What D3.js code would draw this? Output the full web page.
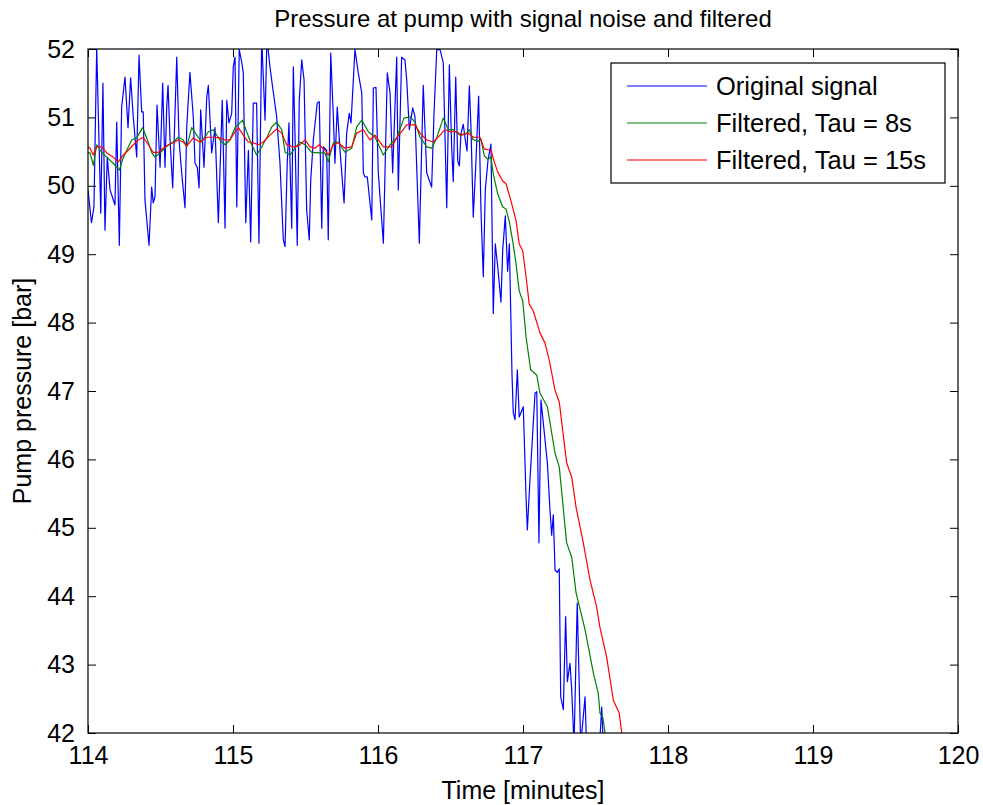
<!DOCTYPE html>
<html><head><meta charset="utf-8">
<script src="https://cdn.jsdelivr.net/npm/d3@7"></script>
<style>body{margin:0;background:#fff}svg{display:block}text{font-family:Arial,"Liberation Sans",sans-serif;fill:#000}</style>
</head><body>
<script>
const title = "Pressure at pump with signal noise and filtered";
const xLabel = "Time [minutes]";
const yLabel = "Pump pressure [bar]";
const xTicks = [114,115,116,117,118,119,120];
const yTicks = [42,43,44,45,46,47,48,49,50,51,52];
const seriesNames = ["Original signal","Filtered, Tau = 8s","Filtered, Tau = 15s"];
const seriesColors = ["#0000ff","#008000","#ff0000"];

const origT = [114.000,114.024,114.041,114.060,114.088,114.103,114.117,114.133,114.152,114.186,114.198,114.216,114.232,114.255,114.276,114.294,114.312,114.336,114.352,114.370,114.381,114.393,114.421,114.439,114.450,114.462,114.476,114.497,114.515,114.531,114.543,114.552,114.566,114.584,114.612,114.628,114.646,114.669,114.681,114.703,114.726,114.738,114.754,114.766,114.777,114.800,114.819,114.830,114.853,114.876,114.899,114.926,114.945,114.957,114.972,114.991,115.002,115.014,115.026,115.043,115.060,115.071,115.088,115.106,115.122,115.140,115.163,115.179,115.198,115.221,115.234,115.255,115.274,115.301,115.324,115.347,115.359,115.374,115.386,115.405,115.416,115.428,115.443,115.457,115.474,115.490,115.508,115.526,115.536,115.554,115.581,115.595,115.612,115.623,115.646,115.657,115.674,115.692,115.703,115.719,115.738,115.766,115.784,115.802,115.814,115.841,115.864,115.888,115.899,115.910,115.926,115.957,115.968,115.986,116.002,116.037,116.064,116.083,116.101,116.129,116.140,116.163,116.186,116.198,116.216,116.239,116.255,116.285,116.312,116.336,116.370,116.386,116.405,116.428,116.450,116.474,116.492,116.508,116.519,116.536,116.550,116.561,116.572,116.588,116.602,116.614,116.630,116.641,116.657,116.676,116.694,116.710,116.726,116.740,116.759,116.779,116.795,116.809,116.826,116.848,116.860,116.878,116.894,116.906,116.924,116.933,116.945,116.961,116.974,117.002,117.021,117.030,117.048,117.083,117.095,117.110,117.124,117.145,117.168,117.186,117.198,117.209,117.221,117.237,117.250,117.260,117.278,117.294,117.306,117.324,117.336,117.352,117.374,117.398,117.428,117.438,117.483,117.528,117.543,117.554,117.600];
const origV = [49.94,49.46,49.69,52.01,49.60,51.50,49.35,50.42,49.94,49.72,50.93,49.13,51.15,51.59,50.85,51.58,51.01,50.42,51.91,51.08,51.08,49.79,49.13,49.98,49.75,49.84,51.18,50.27,51.50,50.27,51.15,51.47,50.67,49.97,51.88,50.67,50.19,49.68,50.86,51.66,51.01,50.33,50.27,49.97,51.11,50.27,51.30,51.47,50.48,50.85,49.46,51.25,49.38,51.25,50.92,51.06,51.74,51.88,49.69,51.99,51.81,51.65,49.46,50.52,49.18,51.21,51.21,49.16,52.16,50.96,52.16,51.74,51.43,51.01,50.33,49.21,49.11,50.33,50.92,49.38,51.74,50.71,49.13,51.25,51.84,51.55,49.65,49.21,50.08,50.67,51.21,51.23,49.38,50.57,50.52,49.21,51.94,51.01,50.33,51.15,50.52,49.75,50.77,51.06,50.92,51.99,51.65,51.36,50.19,50.13,50.13,49.50,51.43,51.44,50.19,49.16,51.65,51.36,50.19,51.88,49.94,51.88,51.84,51.55,50.82,51.14,51.01,49.16,51.47,50.19,49.98,51.04,51.99,51.99,51.80,49.68,51.77,50.57,50.06,51.59,50.36,50.29,50.76,50.90,50.67,50.51,51.46,50.86,49.54,50.38,51.31,49.65,48.67,49.94,50.38,50.61,48.13,49.15,48.81,48.30,49.06,49.56,48.75,49.15,47.25,46.68,46.58,47.31,46.62,46.77,45.45,44.97,45.70,46.97,46.99,44.78,46.87,46.43,45.95,45.26,44.89,45.19,44.38,44.35,44.40,42.53,42.34,43.70,42.75,43.02,42.63,41.82,43.90,41.82,42.53,41.82,41.31,41.82,42.38,41.82,41.20];

const tau8T = [114.000,114.014,114.037,114.060,114.094,114.129,114.174,114.216,114.243,114.301,114.336,114.377,114.405,114.439,114.462,114.497,114.538,114.588,114.623,114.657,114.681,114.715,114.750,114.784,114.830,114.864,114.910,114.945,114.979,115.014,115.067,115.094,115.129,115.163,115.198,115.232,115.267,115.301,115.336,115.359,115.393,115.428,115.462,115.497,115.543,115.595,115.634,115.657,115.692,115.726,115.772,115.819,115.853,115.888,115.933,115.979,116.037,116.083,116.129,116.179,116.221,116.255,116.290,116.336,116.370,116.405,116.450,116.485,116.519,116.566,116.612,116.630,116.653,116.688,116.710,116.733,116.757,116.779,116.795,116.826,116.860,116.883,116.906,116.929,116.952,116.974,116.998,117.021,117.053,117.095,117.117,117.168,117.221,117.250,117.301,117.336,117.366,117.428,117.485,117.519,117.531,117.550,117.566,117.579];
const tau8V = [50.48,50.48,50.30,50.60,50.49,50.42,50.33,50.23,50.41,50.67,50.70,50.85,50.70,50.49,50.42,50.48,50.57,50.64,50.71,50.67,50.57,50.85,50.74,50.64,50.79,50.82,50.67,50.60,50.67,50.85,50.96,50.79,50.60,50.45,50.57,50.70,50.86,50.93,50.82,50.49,50.45,50.55,50.64,50.60,50.49,50.48,50.48,50.35,50.63,50.64,50.49,50.55,50.86,50.96,50.79,50.71,50.45,50.60,50.70,50.99,51.01,50.93,50.71,50.57,50.55,50.70,50.99,50.82,50.82,50.74,50.77,50.82,50.68,50.65,50.68,50.44,50.39,50.42,50.17,49.88,49.69,49.66,49.47,49.19,48.86,48.46,48.32,47.79,47.31,47.23,46.97,46.77,46.09,45.89,44.78,44.57,44.05,43.51,42.88,42.58,42.29,42.23,42.00,41.75];

const tau15T = [114.000,114.014,114.037,114.060,114.094,114.129,114.174,114.209,114.243,114.278,114.312,114.347,114.381,114.416,114.450,114.485,114.519,114.554,114.588,114.623,114.657,114.681,114.726,114.772,114.819,114.864,114.910,114.945,114.979,115.014,115.037,115.071,115.106,115.140,115.174,115.209,115.255,115.301,115.336,115.370,115.416,115.450,115.497,115.531,115.566,115.595,115.634,115.657,115.692,115.726,115.772,115.819,115.853,115.899,115.945,115.979,116.037,116.094,116.129,116.198,116.255,116.290,116.336,116.381,116.428,116.462,116.497,116.543,116.577,116.623,116.657,116.703,116.733,116.779,116.802,116.826,116.860,116.883,116.917,116.952,116.974,116.998,117.021,117.043,117.071,117.117,117.152,117.181,117.221,117.250,117.301,117.336,117.366,117.416,117.462,117.508,117.531,117.577,117.623,117.664,117.681,117.690];
const tau15V = [50.57,50.55,50.45,50.57,50.57,50.48,50.42,50.35,50.45,50.52,50.60,50.67,50.71,50.60,50.49,50.49,50.55,50.60,50.63,50.67,50.64,50.58,50.70,50.64,50.71,50.71,50.70,50.67,50.67,50.79,50.85,50.74,50.64,50.63,50.60,50.64,50.74,50.83,50.77,50.60,50.57,50.58,50.67,50.57,50.55,50.60,50.52,50.45,50.60,50.63,50.55,50.57,50.77,50.82,50.67,50.74,50.57,50.57,50.70,50.89,50.89,50.77,50.67,50.64,50.74,50.82,50.79,50.79,50.74,50.77,50.71,50.71,50.54,50.52,50.35,50.20,50.07,50.03,49.78,49.49,49.15,49.05,48.67,48.27,48.17,47.85,47.70,47.45,47.01,46.84,45.95,45.74,45.30,44.78,44.24,43.84,43.54,43.11,42.48,42.29,42.00,41.70];

const W = 983, H = 805;
const m = {left: 88, right: 958, top: 49, bottom: 733};
const svg = d3.select("body").append("svg").attr("width", W).attr("height", H);
const x = d3.scaleLinear().domain([114,120]).range([m.left, m.right]);
const y = d3.scaleLinear().domain([42,52]).range([m.bottom, m.top]);

svg.append("defs").append("clipPath").attr("id","clip").append("rect")
  .attr("x", m.left).attr("y", m.top).attr("width", m.right-m.left).attr("height", m.bottom-m.top);

const series = [
  origT.map((t,i)=>[t, origV[i]]),
  tau8T.map((t,i)=>[t, tau8V[i]]),
  tau15T.map((t,i)=>[t, tau15V[i]])
];
const line = d3.line().x(d=>x(d[0])).y(d=>y(d[1]));
const g = svg.append("g").attr("clip-path","url(#clip)");
series.forEach((s,i)=>{
  g.append("path").datum(s).attr("d", line).attr("fill","none")
   .attr("stroke", seriesColors[i]).attr("stroke-width",1.2).attr("stroke-linejoin","round");
});

// axes with inward ticks
const tl = 8;
const ax = svg.append("g");
ax.append("g").attr("transform",`translate(0,${m.bottom})`)
  .call(d3.axisBottom(x).tickValues(xTicks).tickSize(-tl).tickPadding(tl+5).tickFormat(d3.format("d")))
  .call(s=>{s.select(".domain").remove(); s.selectAll("text").attr("font-size",25).attr("dy","0.71em");});
ax.append("g").attr("transform",`translate(0,${m.top})`)
  .call(d3.axisTop(x).tickValues(xTicks).tickSize(-tl).tickFormat(""))
  .call(s=>s.select(".domain").remove());
ax.append("g").attr("transform",`translate(${m.left},0)`)
  .call(d3.axisLeft(y).tickValues(yTicks).tickSize(-tl).tickPadding(tl+5).tickFormat(d3.format("d")))
  .call(s=>{s.select(".domain").remove(); s.selectAll("text").attr("font-size",25);});
ax.append("g").attr("transform",`translate(${m.right},0)`)
  .call(d3.axisRight(y).tickValues(yTicks).tickSize(-tl).tickFormat(""))
  .call(s=>s.select(".domain").remove());
ax.selectAll(".tick line").attr("stroke","#000");
ax.selectAll(".tick text").attr("fill","#000").attr("font-family","Arial, 'Liberation Sans', sans-serif");

svg.append("rect").attr("x",m.left).attr("y",m.top).attr("width",m.right-m.left).attr("height",m.bottom-m.top)
  .attr("fill","none").attr("stroke","#000").attr("stroke-width",1.2);

svg.append("text").attr("x",(m.left+m.right)/2).attr("y",27).attr("text-anchor","middle").attr("font-size",24).text(title);
svg.append("text").attr("x",(m.left+m.right)/2).attr("y",799).attr("text-anchor","middle").attr("font-size",25).text(xLabel);
svg.append("text").attr("transform",`translate(31,${(m.top+m.bottom)/2}) rotate(-90)`).attr("text-anchor","middle").attr("font-size",25).text(yLabel);

// legend
const lg = svg.append("g");
lg.append("rect").attr("x",611).attr("y",63).attr("width",334).attr("height",120).attr("fill","#fff").attr("stroke","#000").attr("stroke-width",1.2);
seriesNames.forEach((n,i)=>{
  const yy = 86 + i*37;
  lg.append("line").attr("x1",627).attr("x2",707).attr("y1",yy).attr("y2",yy).attr("stroke",seriesColors[i]).attr("stroke-width",1.1);
  lg.append("text").attr("x",716).attr("y",yy).attr("dy","0.35em").attr("font-size",25.5).text(n);
});
</script>
</body></html>
